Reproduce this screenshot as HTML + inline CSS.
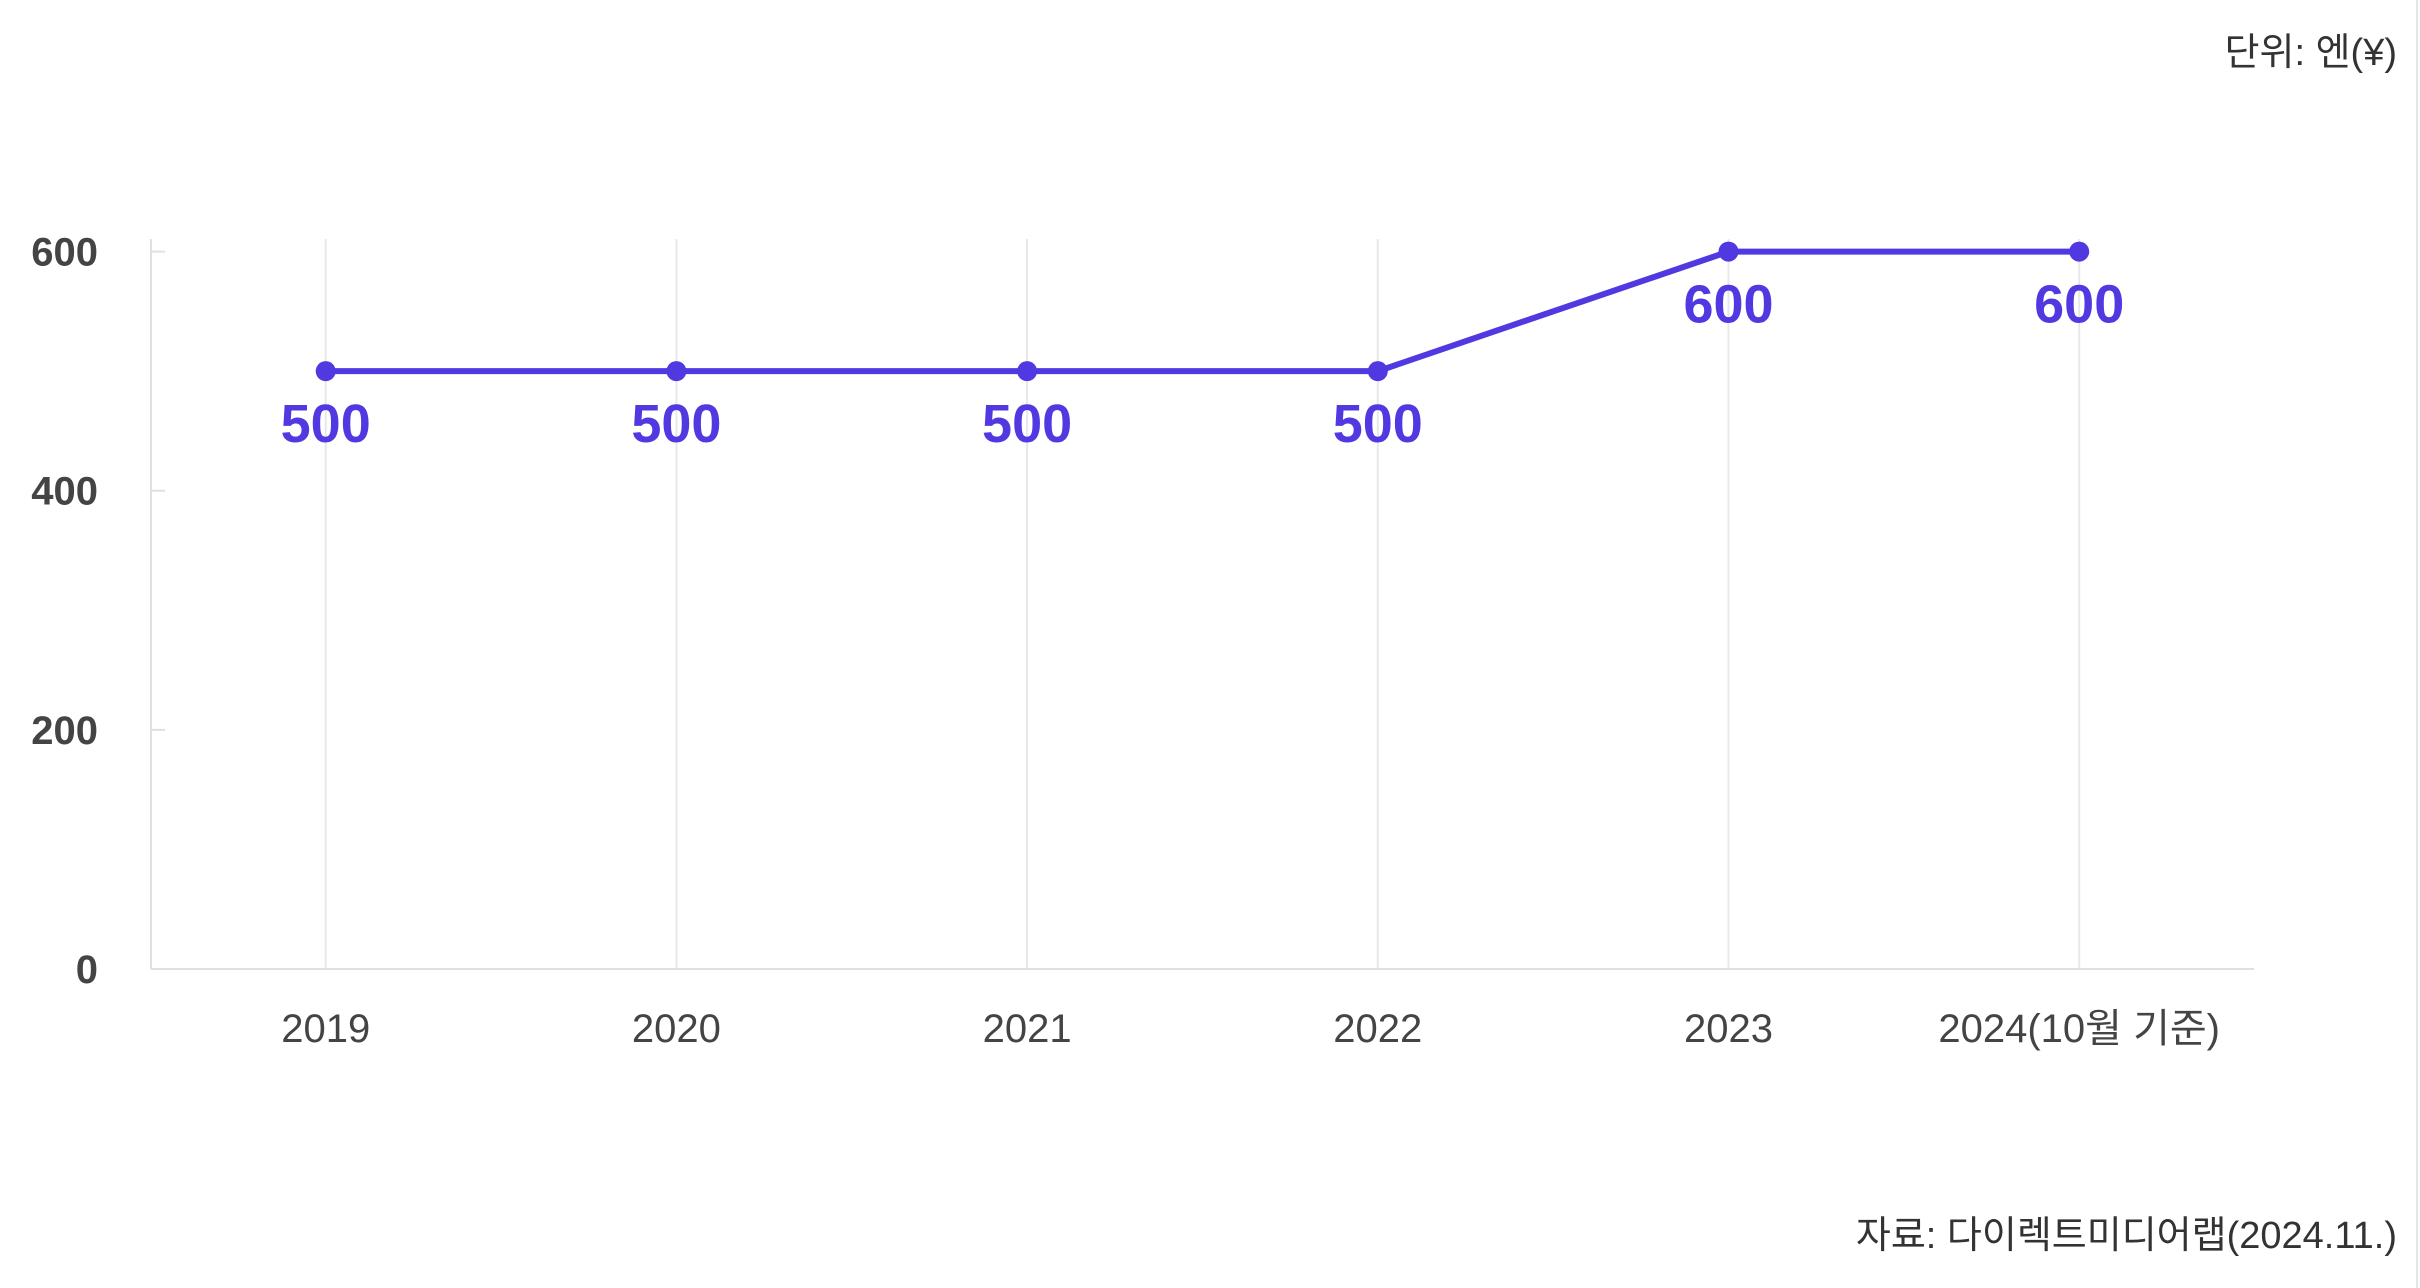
<!DOCTYPE html>
<html><head><meta charset="utf-8">
<style>
html,body{margin:0;padding:0;background:#fff;}
svg{display:block;font-family:"Liberation Sans","Noto Sans CJK KR",sans-serif;}
</style></head>
<body>
<svg id="chart" width="2420" height="1288" viewBox="0 0 2420 1288" xmlns="http://www.w3.org/2000/svg">
<text x="2397" y="65" text-anchor="end" font-size="38" fill="#333">단위:  엔(¥)</text>
<text x="2397" y="1248" text-anchor="end" font-size="38" fill="#333">자료: 다이렉트미디어랩(2024.11.)</text>
<line x1="2417" y1="0" x2="2417" y2="1288" stroke="#e6e6e6" stroke-width="2"/>
<g id="grid"></g><g id="axes"></g><g id="series"></g>
</svg>
<script>
const categories = ["2019","2020","2021","2022","2023","2024(10월 기준)"];
const values = [500,500,500,500,600,600];
const yTicks = [0,200,400,600];
const NS="http://www.w3.org/2000/svg";
const plotLeft=151, plotRight=2254, plotTop=239, plotBottom=969;
const x0=325.7, step=350.7;
function xs(i){return x0+i*step;}
function ys(v){return plotBottom-(v/600)*(plotBottom-251.6);}
function mk(tag,attrs,parent){const e=document.createElementNS(NS,tag);for(const k in attrs)e.setAttribute(k,attrs[k]);parent.appendChild(e);return e;}
const grid=document.getElementById('grid'),axes=document.getElementById('axes'),series=document.getElementById('series');
categories.forEach((c,i)=>{
  const l=mk('line',{x1:xs(i),x2:xs(i),y1:plotTop,y2:plotBottom,stroke:'#e8e8e8','stroke-width':2},grid);
  
  
  const t=mk('text',{x:xs(i),y:plotBottom+73,'text-anchor':'middle','font-size':40,fill:'#444'},axes);
  t.textContent=c;
  
  
});
const ax=mk('line',{x1:plotLeft,x2:plotLeft,y1:plotTop,y2:plotBottom,stroke:'#e0e0e0','stroke-width':2},axes);


const bx=mk('line',{x1:plotLeft,x2:plotRight,y1:plotBottom,y2:plotBottom,stroke:'#e0e0e0','stroke-width':2},axes);


yTicks.forEach(v=>{
  const tk=mk('line',{x1:plotLeft,x2:plotLeft+14,y1:ys(v),y2:ys(v),stroke:'#e0e0e0','stroke-width':2},axes);
  
  
  const t=mk('text',{x:98,y:ys(v)+14,'text-anchor':'end','font-size':40,'font-weight':'bold',fill:'#444'},axes);
  t.textContent=v;
  
  
});
const pts=values.map((v,i)=>xs(i)+','+ys(v)).join(' ');
const pl=mk('polyline',{points:pts,fill:'none',stroke:'#5039e0','stroke-width':6,'stroke-linejoin':'round'},series);


values.forEach((v,i)=>{
  const c=mk('circle',{cx:xs(i),cy:ys(v),r:10,fill:'#5039e0'},series);
  
  
  const t=mk('text',{x:xs(i),y:ys(v)+71,'text-anchor':'middle','font-size':54,'font-weight':'bold',fill:'#5039e0'},series);
  t.textContent=v;
  
  
});
</script>
</body></html>
